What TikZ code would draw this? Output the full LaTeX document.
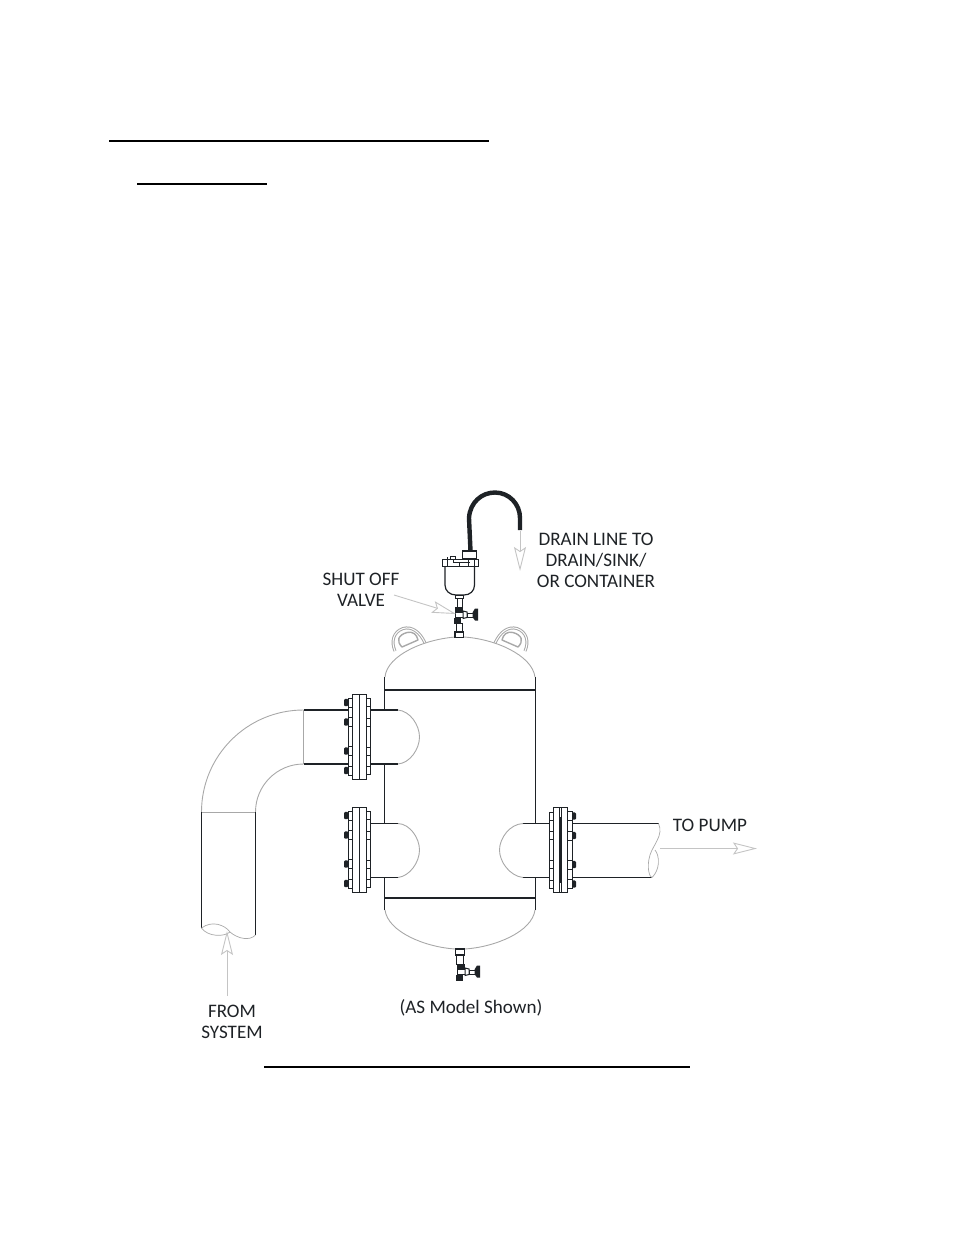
\documentclass[tikz,border=0pt]{standalone}
\usepackage{fontspec}
\setmainfont{Carlito}
\usetikzlibrary{arrows.meta}
\definecolor{ink}{HTML}{1E2226}
\definecolor{soft}{HTML}{A8A8A8}
\definecolor{softer}{HTML}{C4C4C4}
\tikzset{
  lbl/.style={font=\fontsize{19.1}{21}\selectfont,text=ink,align=center,inner sep=0pt},
  rule/.style={draw=black,line width=2pt},
  heavy/.style={draw=ink,line width=1.2pt},
  fine/.style={draw=ink,line width=1pt},
  bold/.style={draw=ink,line width=2.6pt},
  thin/.style={draw=soft,line width=0.9pt},
  flowarrow/.style={draw=softer,line width=0.9pt,-{Stealth[open,length=24pt,width=12pt,inset=4pt]}},
}
% flange with nuts facing the pipe on the left, centred on y=#1
\newcommand{\flangeL}[1]{%
  \draw[fine,fill=white] (348,#1-31) rectangle (352.3,#1+31);
  \draw[fine,fill=white] (366.5,#1-31) rectangle (370.3,#1+31);
  \foreach \d in {-34.5,-15,14,33.5}{
    \fill[ink,rounded corners=1.2pt] (344,#1+\d-3.7) rectangle (348.4,#1+\d+3.7);
    \draw[fine,fill=white] (348,#1+\d-4.5) rectangle (352.3,#1+\d+4.5);
    \draw[fine,fill=white] (366.5,#1+\d-4) rectangle (370.3,#1+\d+4);
  }
  \draw[heavy,fill=white] (352.3,#1-42.7) rectangle (366.5,#1+42.7);
  \fill[ink] (358.6,#1-42.7) rectangle (360.4,#1+42.7);
}
% valve: #1 = stem x, #2 = wheel y
\newcommand{\valveT}[2]{%
  \draw[fine,fill=white] (#1-3,#2-2.5) rectangle (#1+5,#2+3);
  \fill[ink] (#1-3,#2-7.5) rectangle (#1+4.5,#2-2.5);
  \fill[ink] (#1-4.5,#2+3) rectangle (#1+3,#2+9);
  \draw[fine,fill=white] (#1+5,#2-3.5) -- (#1+9,#2-2.5) -- (#1+9,#2+3) -- (#1+5,#2+4) -- cycle;
  \draw[fine,fill=white] (#1+9,#2-1.5) rectangle (#1+15,#2+2.5);
  \fill[ink] (#1+14.5,#2-2) -- (#1+17,#2-6) -- (#1+20,#2-6) -- (#1+20,#2+6) -- (#1+17,#2+6) -- (#1+14.5,#2+2.5) -- cycle;
}
% lifting lug, drawn at its left-hand place; mirrored for the right one
\newcommand{\lug}{%
  \draw[soft,line width=3pt,line join=round] (395,651) .. controls (391,642) and (393,632) .. (403,628.5) .. controls (412,626) and (420,632) .. (425,643);
  \draw[white,line width=1pt,line join=round] (395,651) .. controls (391,642) and (393,632) .. (403,628.5) .. controls (412,626) and (420,632) .. (425,643);
  \draw[soft,line width=1.4pt,line join=round] (402,647) .. controls (396,641) and (398,635) .. (407,632.5) .. controls (412,631) and (417,634) .. (418,640) -- cycle;
}
\begin{document}
\begin{tikzpicture}[x=1pt,y=-1pt]
\useasboundingbox (0,0) rectangle (954,1235);
% page rules
\coordinate (r1a) at (109,140.5); \coordinate (r1b) at (489,140.5);
\coordinate (r2a) at (137,184);   \coordinate (r2b) at (267,184);
\coordinate (r3a) at (264,1066.5);\coordinate (r3b) at (690,1066.5);
\draw[rule] (r1a) -- (r1b);
\draw[rule] (r2a) -- (r2b);
\draw[rule] (r3a) -- (r3b);

% lifting lugs
\lug
\begin{scope}[xshift=920pt,xscale=-1]\lug\end{scope}

% vessel heads
\draw[thin] (385,677) .. controls (387,655) and (425,639) .. (456,637);
\draw[thin] (464,637) .. controls (495,639) and (532,655) .. (535,677);
\draw[thin] (385,910) .. controls (388,932) and (425,947) .. (455,949);
\draw[thin] (465,949) .. controls (495,947) and (532,932) .. (535,910);
% vessel shell
\draw[heavy] (384.5,677) -- (384.5,710);
\draw[heavy] (384.5,764) -- (384.5,823);
\draw[heavy] (384.5,877) -- (384.5,910);
\draw[heavy] (535.5,677) -- (535.5,823);
\draw[heavy] (535.5,877) -- (535.5,910);
\draw[bold] (384,690) -- (536,690);
\draw[bold] (384,898) -- (536,898);

% inlet elbow and pipe
\draw[thin] (303.5,710) arc[start angle=90,end angle=180,x radius=102,y radius=-102];
\draw[thin] (303.5,764) arc[start angle=90,end angle=180,x radius=48,y radius=-48];
\draw[thin] (303.5,710) -- (303.5,764);
\draw[thin] (201.5,812) -- (255.5,812);
\draw[heavy] (201.5,812) -- (201.5,928);
\draw[heavy] (255.5,812) -- (255.5,935);
\draw[thin,line width=.7pt] (201.5,928) .. controls (212,920) and (225,925) .. (230,932) .. controls (238,939) and (250,941) .. (255.5,935);
\draw[thin,line width=.7pt] (201.5,928) .. controls (208,937) and (224,937) .. (230,932);
\draw[heavy] (303.5,710) -- (350,710);
\draw[heavy] (303.5,764) -- (350,764);

% inlet stubs with caps
\draw[heavy] (370,710) -- (398,710);
\draw[heavy] (370,764) -- (398,764);
\draw[thin] (398,710) .. controls (410,711) and (419.5,725) .. (419.5,737) .. controls (419.5,749) and (410,763) .. (398,764);
\draw[heavy] (370,823.5) -- (398,823.5);
\draw[heavy] (370,877.5) -- (398,877.5);
\draw[thin] (398,823.5) .. controls (410,824) and (419.5,838) .. (419.5,850) .. controls (419.5,862) and (410,876) .. (398,877.5);
\flangeL{737}
\flangeL{850}

% outlet stub and pipe
\draw[heavy] (523,823.5) -- (550,823.5);
\draw[heavy] (523,877.5) -- (550,877.5);
\draw[thin] (523,823.5) .. controls (510,824) and (499.5,838) .. (499.5,850) .. controls (499.5,862) and (510,876) .. (523,877.5);
\draw[heavy] (570,823.5) -- (658.5,823.5);
\draw[heavy] (570,877.5) -- (652,877.5);
\draw[thin,line width=.7pt] (658.5,823.5) .. controls (664,835) and (653,845) .. (650,855) .. controls (646,868) and (650,878) .. (652,877.5);
\draw[thin,line width=.7pt] (652,877.5) .. controls (660,870) and (660,856) .. (655,850);
% outlet flange
\draw[fine,fill=white] (549,819) rectangle (553.3,881);
\draw[fine,fill=white] (567.3,819) rectangle (572,881);
\foreach \yy in {816,835.5,864.5,884}{
  \fill[ink,rounded corners=1.2pt] (571.6,\yy-3.7) rectangle (576,\yy+3.7);
  \draw[fine,fill=white] (567.3,\yy-4.5) rectangle (572,\yy+4.5);
  \draw[fine,fill=white] (549.5,\yy-4) rectangle (553.3,\yy+4);
}
\draw[heavy,fill=white] (553.3,807.5) rectangle (567.3,892.5);
\draw[heavy,fill=white] (559.3,807.5) rectangle (561.3,892.5);
\fill[ink] (559.3,817) rectangle (561.3,883);

% top nipple and shut-off valve
\draw[fine,fill=white] (456,623) rectangle (462.5,632);
\draw[heavy,fill=white] (455,632) rectangle (463.5,637.5);
\draw[fine,fill=white] (457,597) rectangle (462,607);
\valveT{458}{614.5}

% air vent
\draw[heavy] (445,567) -- (445,585) .. controls (445,591) and (450,595) .. (456,595) -- (464,595) .. controls (470,595) and (474.5,591) .. (474.5,585) -- (474.5,567);
\draw[fine,fill=white] (455,595) rectangle (463,598);
\draw[fine,fill=white] (442.5,559) rectangle (478.5,566.5);
\draw[fine] (447,557) -- (447,566.5) (453,556) -- (453,562.5) -- (470,562.5) (459,562.5) -- (459,566.5) (468,559) -- (468,566.5) (474,559) -- (474,566.5);
\draw[fine,fill=white] (450.5,556) rectangle (455,559);
\draw[heavy,fill=white] (462.5,551) -- (476.5,551) -- (476.5,558.5) -- (462.5,558.5) -- cycle;
\draw[bold,line width=4.4pt] (470.5,551) -- (469,518) .. controls (470,502) and (482,492.5) .. (495,492.5) .. controls (509,492.5) and (520,504) .. (520,518) -- (520,530);

% bottom drain and valve
\draw[heavy,fill=white] (455.5,949) rectangle (464.5,955);
\draw[fine] (456.5,955) -- (456.5,965) (463,955) -- (463,965);
\valveT{460}{971.5}

% labels
\node[lbl] (drain) at (596,560) {DRAIN LINE TO\\DRAIN/SINK/\\OR CONTAINER};
\node[lbl] (shut) at (361,589.5) {SHUT OFF\\VALVE};
\node[lbl] (pump) at (710,825) {TO PUMP};
\node[lbl] (sys) at (232,1021.5) {FROM\\SYSTEM};
\node[lbl] (model) at (471,1008) {(AS Model Shown)};

% flow arrows
\coordinate (d0) at (520,531); \coordinate (d1) at (520,571);
\coordinate (s0) at (394,595); \coordinate (s1) at (456,614);
\coordinate (p0) at (660,848.5); \coordinate (p1) at (757,848.5);
\coordinate (f0) at (227,996); \coordinate (f1) at (227,931);
\draw[flowarrow] (d0) -- (d1);
\draw[flowarrow] (s0) -- (s1);
\draw[flowarrow] (p0) -- (p1);
\draw[flowarrow] (f0) -- (f1);
\end{tikzpicture}
\end{document}
